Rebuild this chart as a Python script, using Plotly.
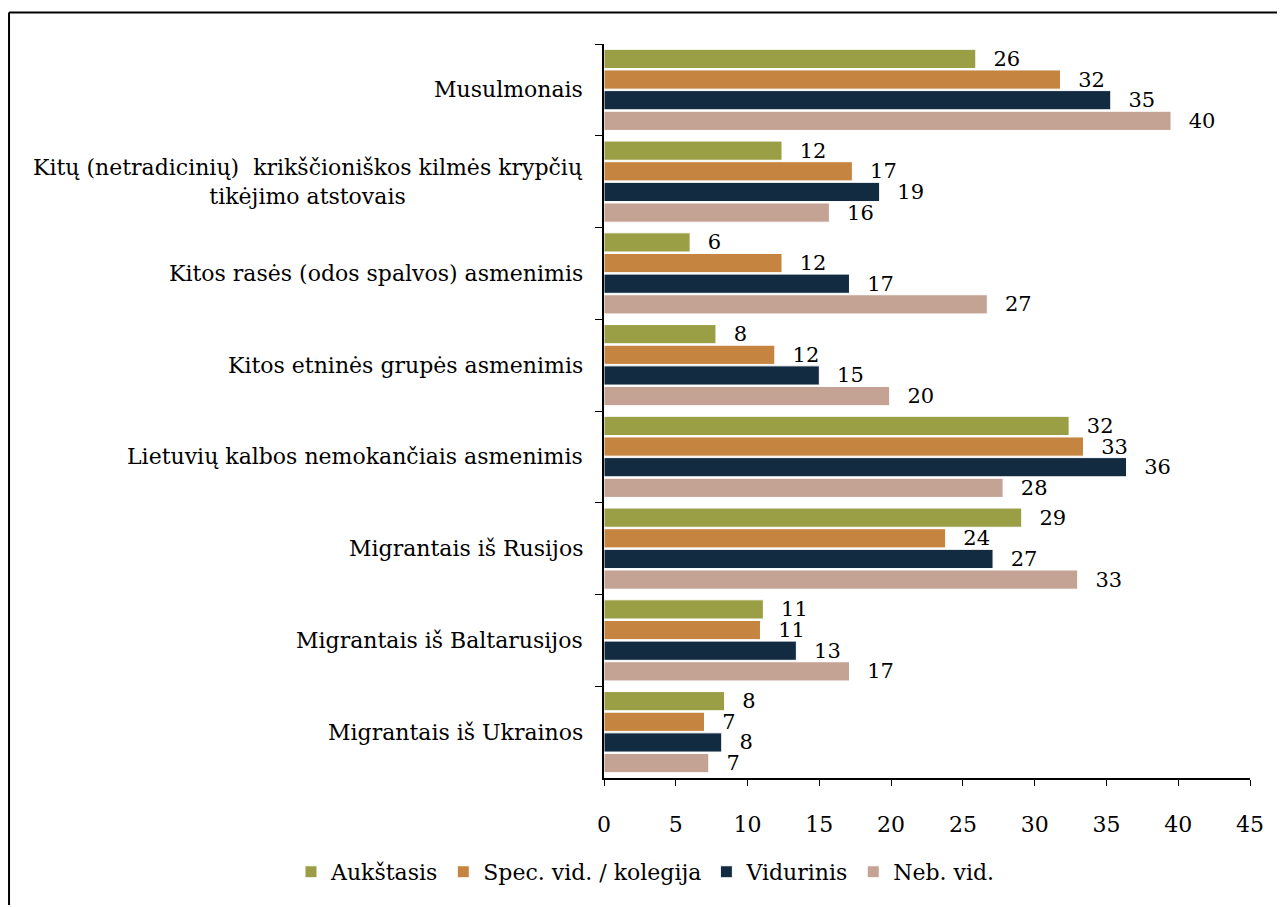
import plotly.graph_objects as go

categories = [
    "Musulmonais",
    "Kitų (netradicinių)\u00a0\u00a0krikščioniškos kilmės krypčių<br>tikėjimo atstovais",
    "Kitos rasės (odos spalvos) asmenimis",
    "Kitos etninės grupės asmenimis",
    "Lietuvių kalbos nemokančiais asmenimis",
    "Migrantais iš Rusijos",
    "Migrantais iš Baltarusijos",
    "Migrantais iš Ukrainos",
]
series_names = ["Aukštasis", "Spec. vid. / kolegija", "Vidurinis", "Neb. vid."]
aukstasis = [25.9, 12.4, 6.0, 7.8, 32.4, 29.1, 11.1, 8.4]
spec_vid = [31.8, 17.3, 12.4, 11.9, 33.4, 23.8, 10.9, 7.0]
vidurinis = [35.3, 19.2, 17.1, 15.0, 36.4, 27.1, 13.4, 8.2]
neb_vid = [39.5, 15.7, 26.7, 19.9, 27.8, 33.0, 17.1, 7.3]
colors = ["#9A9F45", "#C5843F", "#132B40", "#C4A394"]
x_ticks = [0, 5, 10, 15, 20, 25, 30, 35, 40, 45]

FONT = "DejaVu Serif"
fig = go.Figure()
for name, vals, col in zip(series_names, [aukstasis, spec_vid, vidurinis, neb_vid], colors):
    fig.add_trace(go.Bar(
        y=categories, x=vals, name=name, orientation="h",
        marker=dict(color=col, line=dict(color="white", width=1)),
        text=vals, texttemplate="\u2002\u2009%{x:.0f}", textposition="outside",
        textfont=dict(family=FONT, size=21, color="black"),
        constraintext="none", cliponaxis=False,
    ))

for c in categories:
    fig.add_annotation(
        x=-0.029, xref="paper", y=c, yref="y", text=c, showarrow=False,
        xanchor="right", yanchor="middle", align="center",
        font=dict(family=FONT, size=22, color="black"),
    )

fig.add_shape(type="line", xref="paper", yref="paper", x0=-0.921, x1=2, y0=1.043, y1=1.043,
              line=dict(color="black", width=2))
fig.add_shape(type="line", xref="paper", yref="paper", x0=-0.921, x1=-0.921, y0=1.043, y1=-1,
              line=dict(color="black", width=2))

fig.update_layout(
    width=1275, height=897,
    margin=dict(l=596, r=33, t=36, b=112),
    paper_bgcolor="white", plot_bgcolor="white",
    barmode="group", bargap=0.1, bargroupgap=0.07,
    font=dict(family=FONT, size=22, color="black"),
    showlegend=True,
    legend=dict(orientation="h", xref="paper", yref="paper", x=-0.4845, y=-0.128,
                xanchor="left", yanchor="middle", font=dict(family=FONT, size=22),
                itemwidth=30, traceorder="normal"),
)
fig.update_xaxes(range=[0, 45], tickvals=x_ticks, showgrid=False, zeroline=False,
                 showline=True, linecolor="black", linewidth=1.5, ticks="outside",
                 ticklen=6, tickcolor="black", ticklabelstandoff=20,
                 tickfont=dict(family=FONT, size=22))
fig.update_yaxes(autorange="reversed", showticklabels=False, showgrid=False, zeroline=False,
                 showline=True, linecolor="black", linewidth=1.5, ticks="outside",
                 tickson="boundaries", ticklen=7, tickcolor="black")

fig.write_html("out.html")
